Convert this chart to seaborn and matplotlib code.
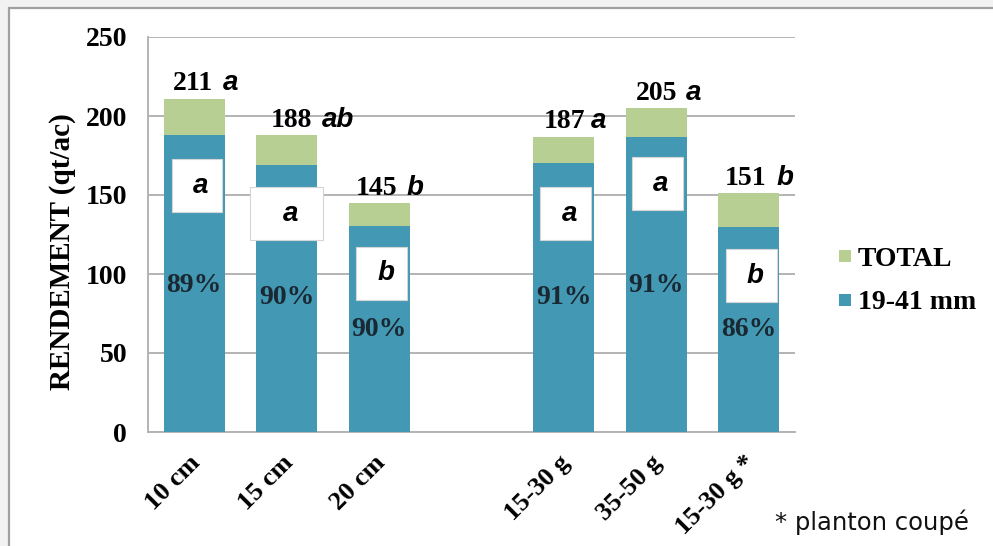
import matplotlib
matplotlib.use("Agg")
import matplotlib.pyplot as plt
import matplotlib.transforms as mtransforms
from matplotlib.patches import Rectangle
from matplotlib.lines import Line2D
import seaborn as sns
import pandas as pd

# Yield data per treatment (qt/ac)
categories = ["10 cm", "15 cm", "20 cm", "15-30 g", "35-50 g", "15-30 g *"]
order = ["10 cm", "15 cm", "20 cm", " ", "15-30 g", "35-50 g", "15-30 g *"]
total = [211, 188, 145, 187, 205, 151]
calibre_19_41 = [187.8, 169.2, 130.5, 170.2, 186.6, 129.9]
share_pct = [89, 90, 90, 91, 91, 86]
total_groups = ["a", "ab", "b", "a", "a", "b"]
calibre_groups = ["a", "a", "b", "a", "a", "b"]

GREEN = "#b8cf94"
BLUE = "#4399b3"
GRID = "#b3b3b3"
SERIF = "Liberation Serif"
SANS = "Liberation Sans"

df = pd.DataFrame({"cat": categories, "total": total, "small": calibre_19_41})

sns.set_theme(style="white")
plt.rcParams["font.family"] = [SERIF, "DejaVu Serif"]
for key in ["text.color", "axes.labelcolor", "xtick.labelcolor", "ytick.labelcolor"]:
    plt.rcParams[key] = "black"

fig = plt.figure(figsize=(9.93, 5.46), dpi=100)
fig.patch.set_facecolor("#f2f2f2")
# white panel with a grey border on the top and left
fig.patches.append(Rectangle((9 / 993, -0.05), 1.2, (546 - 8) / 546 + 0.05,
                             transform=fig.transFigure, facecolor="white",
                             edgecolor="#a0a0a0", linewidth=1.6, zorder=-10))

ax = fig.add_axes([148 / 993, 1 - 432 / 546, (795 - 148) / 993, (432 - 37) / 546])
ax.patch.set_alpha(0)

sns.barplot(data=df, x="cat", y="total", order=order, color=GREEN,
            saturation=1, width=0.66, ax=ax, zorder=2, linewidth=0)
sns.barplot(data=df, x="cat", y="small", order=order, color=BLUE,
            saturation=1, width=0.66, ax=ax, zorder=3, linewidth=0)

ax.set_xlim(-0.5, 6.5)
ax.set_ylim(0, 250)
ax.set_yticks([0, 50, 100, 150, 200, 250])
ax.yaxis.grid(True, color=GRID, linewidth=1.4, zorder=1)
ax.set_axisbelow(True)
for side in ["top", "right"]:
    ax.spines[side].set_visible(False)
for side in ["left", "bottom"]:
    ax.spines[side].set_color(GRID)
    ax.spines[side].set_linewidth(1.4)

# tick marks between categories, labels centred under bars
ax.set_xticks([i for i in range(7)])
ax.set_xticks([i - 0.5 for i in range(8)], minor=True)
ax.tick_params(axis="x", which="major", length=0, pad=14)
ax.tick_params(axis="x", which="minor", length=7, width=1.4, color=GRID, direction="out")
ax.tick_params(axis="y", which="major", length=7, width=1.4, color=GRID, direction="out",
               pad=8, labelsize=20)
for lab in ax.get_yticklabels():
    lab.set_fontweight("bold")
    lab.set_fontfamily(SERIF)
ax.set_xticklabels(order, rotation=45, ha="right", rotation_mode="anchor",
                   fontsize=19, fontweight="bold", fontfamily=SERIF)
shift = mtransforms.ScaledTranslation(-4 / 72, 0, fig.dpi_scale_trans)
for lab in ax.get_xticklabels():
    lab.set_transform(lab.get_transform() + shift)
ax.set_xlabel("")
ax.set_ylabel("RENDEMENT (qt/ac)", fontsize=21, fontweight="bold", fontfamily=SERIF)
ax.yaxis.set_label_coords(-0.112, 0.456)

positions = [0, 1, 2, 4, 5, 6]

# totals with significance letters above each bar
number_dx = [19, 25, 18, 21, 21, 18]
letter_gap = [7, 7, 7, 4, 6, 7]
for x, t, g, dx, gap in zip(positions, total, total_groups, number_dx, letter_gap):
    ax.annotate(f"{t}", xy=(x, t), xytext=(dx * 0.72, 6), textcoords="offset points",
                ha="right", va="baseline", fontsize=20, fontweight="bold",
                fontfamily=SERIF, zorder=6)
    ax.annotate(g, xy=(x, t), xytext=(dx * 0.72 + gap, 6), textcoords="offset points",
                ha="left", va="baseline", fontsize=20, fontweight="bold",
                fontstyle="italic", fontfamily=SANS, zorder=6)

# share of the 19-41 mm grade inside the blue segment
pct_y = [93, 85, 65, 85, 93, 65]
for x, p, y in zip(positions, share_pct, pct_y):
    ax.text(x, y, f"{p}%", ha="center", va="center", fontsize=20, fontweight="bold",
            fontfamily=SERIF, color="#1a2833", zorder=6)

# significance letters for the 19-41 mm grade in white boxes
box_cx = [0.03, 1.0, 2.03, 4.02, 5.01, 6.03]
box_cy = [156, 138, 100.6, 138, 157, 99]
box_w = [0.55, 0.79, 0.55, 0.55, 0.55, 0.55]
box_h = 33.5
for cx, cy, w, g in zip(box_cx, box_cy, box_w, calibre_groups):
    ax.add_patch(Rectangle((cx - w / 2, cy - box_h / 2), w, box_h, facecolor="white",
                           edgecolor="#d5d5d5", linewidth=0.8, zorder=5))
    ax.text(cx + 0.04, cy, g, ha="center", va="center", fontsize=20, fontweight="bold",
            fontstyle="italic", fontfamily=SANS, zorder=6)

handles = [Line2D([], [], marker="s", linestyle="none", markersize=9,
                  markerfacecolor=GREEN, markeredgewidth=0),
           Line2D([], [], marker="s", linestyle="none", markersize=9,
                  markerfacecolor=BLUE, markeredgewidth=0)]
fig.legend(handles, ["TOTAL", "19-41 mm"], loc="center left",
           bbox_to_anchor=(812 / 993, 1 - 281 / 546), frameon=False,
           prop={"family": SERIF, "weight": "bold", "size": 20},
           handlelength=0.6, handletextpad=0.15, labelspacing=0.65)

fig.text(775 / 993, 1 - 522 / 546, "* planton coupé", fontsize=17.5,
         fontfamily="DejaVu Sans", ha="left", va="center", color="#111111")

fig.savefig("out.png", dpi=100, facecolor=fig.get_facecolor())
